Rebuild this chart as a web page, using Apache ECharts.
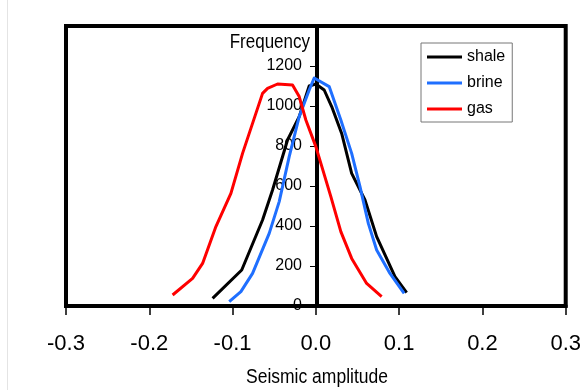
<!DOCTYPE html>
<html>
<head>
<meta charset="utf-8">
<script src="https://cdn.jsdelivr.net/npm/echarts@6/dist/echarts.min.js"></script>
<style>
html,body{margin:0;padding:0;background:#fff;}
#c{width:584px;height:390px;}
</style>
</head>
<body>
<div id="c"></div>
<script>
const seriesNames = ['shale', 'brine', 'gas'];
const shale = [[-0.124,38],[-0.089,180],[-0.064,430],[-0.052,580],[-0.034,830],[-0.020,947],[-0.008,1100],[0.0,1110],[0.010,1080],[0.019,997],[0.031,863],[0.043,663],[0.059,530],[0.073,347],[0.095,147],[0.109,67]];
const brine = [[-0.104,22],[-0.090,72],[-0.076,163],[-0.056,363],[-0.044,522],[-0.032,747],[-0.020,947],[-0.008,1080],[-0.002,1140],[0.016,1097],[0.030,930],[0.043,763],[0.053,597],[0.063,413],[0.073,280],[0.089,163],[0.106,63]];
const gas = [[-0.172,55],[-0.148,138],[-0.136,213],[-0.120,397],[-0.102,563],[-0.088,763],[-0.064,1063],[-0.058,1088],[-0.046,1110],[-0.028,1105],[-0.020,1047],[-0.012,930],[0.0,797],[0.018,547],[0.030,372],[0.043,238],[0.061,113],[0.079,47]];
const xTicks = [-0.3,-0.2,-0.1,0.0,0.1,0.2,0.3];
const yTicks = [0,200,400,600,800,1000,1200];
const xTitle = 'Seismic amplitude';
const yTitle = 'Frequency';
const colors = ['#000000', '#1f6fff', '#ff0000'];

const chart = echarts.init(document.getElementById('c'));
const font = "'Liberation Sans', Arial, sans-serif";
const dataSets = [shale, brine, gas];
const gridLeft = 66, gridRight = 16, W = 584;
const zeroX = gridLeft + (W - gridLeft - gridRight) * (0 - xTicks[0]) / (xTicks[xTicks.length-1] - xTicks[0]);
chart.setOption({
  animation: false,
  backgroundColor: '#ffffff',
  grid: {left: gridLeft, right: gridRight, top: 26, bottom: 84, show: true, borderColor: '#000', borderWidth: 4, backgroundColor: 'transparent'},
  legend: {
    orient: 'vertical', left: 421, top: 43,
    padding: [6, 7, 5, 6], itemGap: 10,
    itemWidth: 35, itemHeight: 3,
    borderColor: '#777', borderWidth: 1, backgroundColor: '#fff',
    textStyle: {fontFamily: font, fontSize: 16, color: '#000'},
    data: seriesNames.map(n => ({name: n, icon: 'rect'}))
  },
  xAxis: {
    type: 'value', min: xTicks[0], max: xTicks[xTicks.length-1], interval: 0.1,
    axisLine: {show: true, onZero: false, lineStyle: {color: '#000', width: 4}},
    axisTick: {show: true, inside: false, length: 9, lineStyle: {color: '#000', width: 1.5}},
    axisLabel: {margin: 27, fontFamily: font, fontSize: 22, color: '#000',
      formatter: v => (Math.abs(v) < 1e-9 ? 0 : v).toFixed(1)},
    splitLine: {show: false}
  },
  yAxis: {
    type: 'value', min: 0, max: 1400, interval: 200,
    offset: -(zeroX - gridLeft),
    axisLine: {show: true, onZero: false, lineStyle: {color: '#000', width: 4}},
    axisTick: {show: true, inside: false, length: 7, lineStyle: {color: '#000', width: 1}},
    axisLabel: {margin: 15, fontFamily: font, fontSize: 16, color: '#000',
      formatter: v => (yTicks.indexOf(v) >= 0 ? String(v) : '')},
    splitLine: {show: false}
  },
  series: seriesNames.map((n, i) => ({
    name: n, type: 'line', data: dataSets[i], showSymbol: false, symbol: 'none',
    color: colors[i],
    lineStyle: {width: 3, color: colors[i], join: 'round'}
  })),
  graphic: [
    {type: 'text', x: 310, y: 43, scaleY: 1.17, z: 10,
      style: {x: 0, y: 0, text: yTitle, fontFamily: font, fontSize: 17, fill: '#000', align: 'right', verticalAlign: 'middle'}},
    {type: 'text', x: 317, y: 377, scaleY: 1.17, z: 10,
      style: {x: 0, y: 0, text: xTitle, fontFamily: font, fontSize: 17.5, fill: '#000', align: 'center', verticalAlign: 'middle'}},
    {type: 'line', shape: {x1: 7.5, y1: 0, x2: 7.5, y2: 390}, style: {stroke: '#e4e4e4', lineWidth: 1}}
  ]
});
</script>
</body>
</html>
